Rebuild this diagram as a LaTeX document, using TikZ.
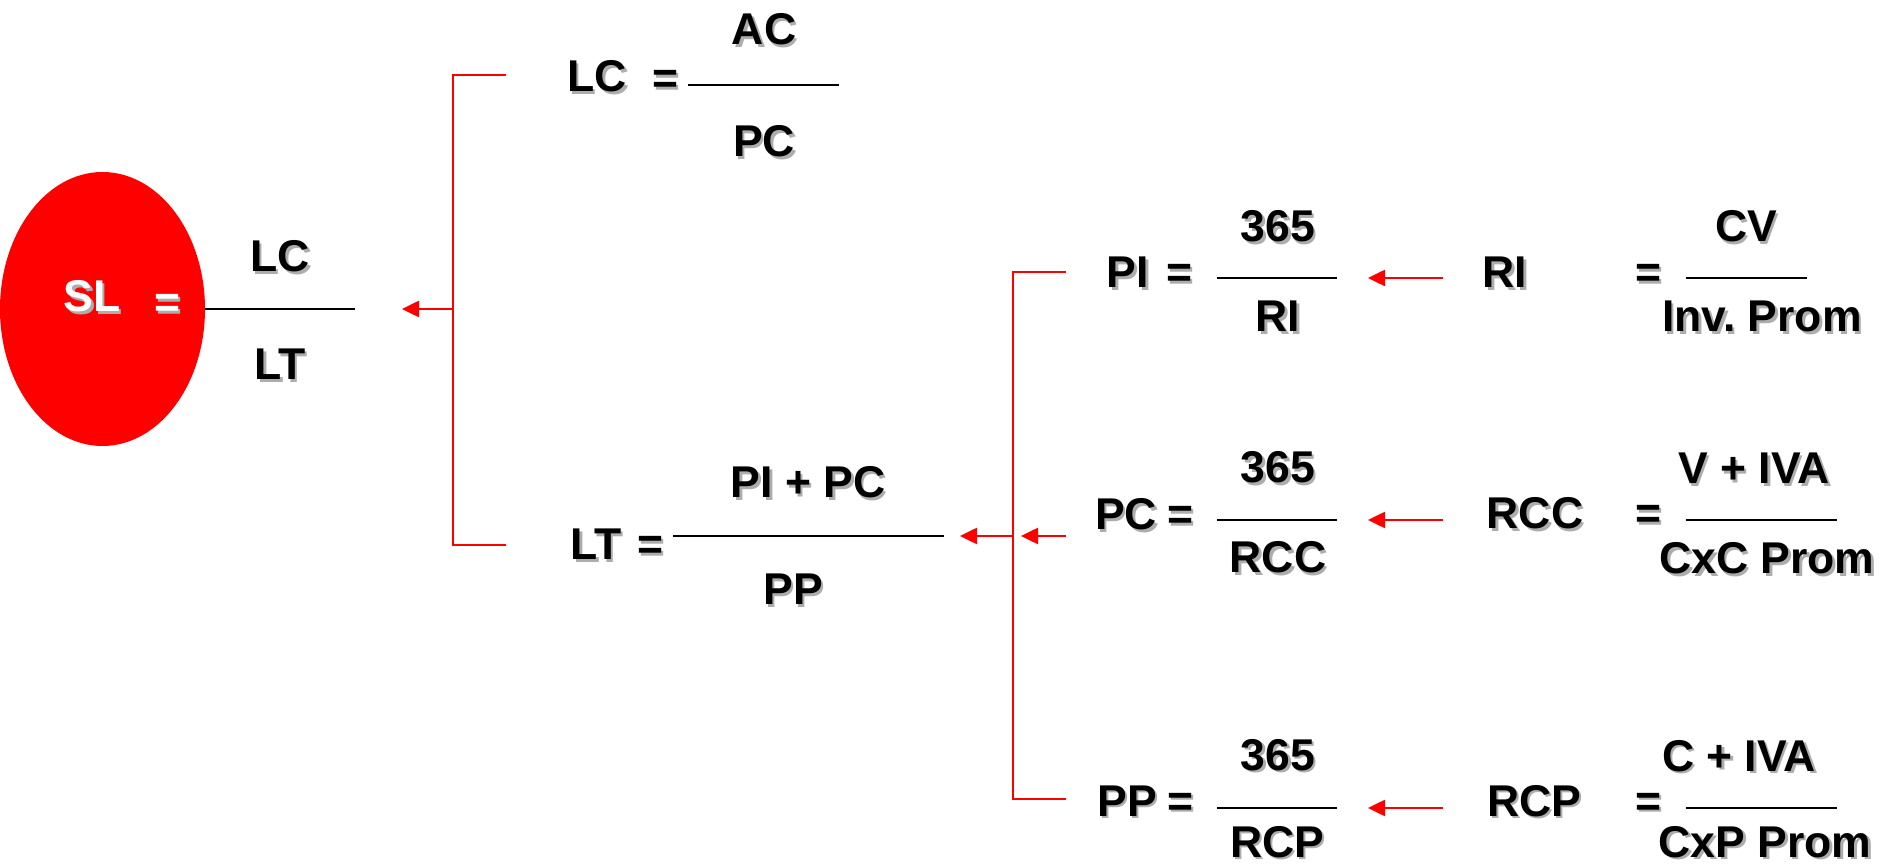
\documentclass[tikz,border=0pt]{standalone}
\usepackage{fontspec}
\setmainfont{Liberation Sans}
\usetikzlibrary{arrows.meta}
\frenchspacing
\newcommand\shtx[1]{\makebox[0pt][l]{\smash{\hspace{1.3pt}\raisebox{-1.3pt}{\textcolor{black!32}{#1}}}}#1}
\begin{document}
\begin{tikzpicture}[x=0.5pt,y=-0.5pt,
  txt/.style={anchor=base,inner sep=0pt,font=\fontsize{22.25}{26}\selectfont\bfseries},
  wtxt/.style={txt,text=white},
  frac/.style={draw=black,line width=1pt},
  brk/.style={draw=red,line width=1.3pt},
  arr/.style={draw=red,line width=1.3pt,-{Triangle[length=8.5pt,width=8pt]}}]
\useasboundingbox (0,0) rectangle (1890,865);
% ellipse
\fill[red] (102.5,309) ellipse [x radius=102.5, y radius=137];
\node[wtxt] (sl) at (92,312) {\shtx{SL}};
\node[wtxt] (sleq) at (167,318) {\shtx{=}};
\coordinate (f0a) at (205,309); \coordinate (f0b) at (355,309);
\draw[frac] (f0a) -- (f0b);
\node[txt] (sln) at (280,272) {\shtx{LC}};
\node[txt] (sld) at (280,380) {\shtx{LT}};
% bracket 1
\coordinate (b1a) at (506,75); \coordinate (b1b) at (453,75);
\coordinate (b1c) at (453,545); \coordinate (b1d) at (506,545);
\coordinate (b1m) at (453,309); \coordinate (t1) at (402,309);
\draw[brk] (b1a) -- (b1b) -- (b1c) -- (b1d);
\draw[arr] (b1m) -- (t1);
% LC
\node[txt] (lc) at (597,92) {\shtx{LC}};
\node[txt] (lceq) at (665,94) {\shtx{=}};
\coordinate (f1a) at (688,85); \coordinate (f1b) at (839,85);
\draw[frac] (f1a) -- (f1b);
\node[txt] (lcn) at (764,45) {\shtx{AC}};
\node[txt] (lcd) at (764,157) {\shtx{PC}};
% LT
\node[txt] (lt) at (596,560) {\shtx{LT}};
\node[txt] (lteq) at (650,560) {\shtx{=}};
\coordinate (f2a) at (673,536); \coordinate (f2b) at (944,536);
\draw[frac] (f2a) -- (f2b);
\node[txt] (ltn) at (808,498) {\shtx{PI + PC}};
\node[txt] (ltd) at (793,605) {\shtx{PP}};
% bracket 2
\coordinate (b2a) at (1066,272); \coordinate (b2b) at (1013,272);
\coordinate (b2c) at (1013,799); \coordinate (b2d) at (1066,799);
\coordinate (b2m) at (1013,536); \coordinate (t2) at (960,536);
\coordinate (b2r) at (1066,536); \coordinate (t3) at (1021,536);
\draw[brk] (b2a) -- (b2b) -- (b2c) -- (b2d);
\draw[arr] (b2m) -- (t2);
\draw[arr] (b2r) -- (t3);
% PI row
\node[txt] (pi) at (1128,288) {\shtx{PI}};
\node[txt] (pieq) at (1179,288) {\shtx{=}};
\coordinate (f3a) at (1217,278); \coordinate (f3b) at (1337,278);
\draw[frac] (f3a) -- (f3b);
\node[txt] (pin) at (1278,242) {\shtx{365}};
\node[txt] (pid) at (1278,332) {\shtx{RI}};
\coordinate (a3s) at (1443,278); \coordinate (a3t) at (1368,278);
\draw[arr] (a3s) -- (a3t);
\node[txt] (ri) at (1505,288) {\shtx{RI}};
\node[txt] (rieq) at (1648,288) {\shtx{=}};
\coordinate (f4a) at (1686,278); \coordinate (f4b) at (1807,278);
\draw[frac] (f4a) -- (f4b);
\node[txt] (rin) at (1746,242) {\shtx{CV}};
\node[txt] (rid) at (1762,332) {\shtx{Inv. Prom}};
% PC row
\node[txt] (pc) at (1126,530) {\shtx{PC}};
\node[txt] (pceq) at (1180,530) {\shtx{=}};
\coordinate (f5a) at (1217,520); \coordinate (f5b) at (1337,520);
\draw[frac] (f5a) -- (f5b);
\node[txt] (pcn) at (1278,483) {\shtx{365}};
\node[txt] (pcd) at (1278,573) {\shtx{RCC}};
\coordinate (a5s) at (1443,520); \coordinate (a5t) at (1368,520);
\draw[arr] (a5s) -- (a5t);
\node[txt] (rcc) at (1535,529) {\shtx{RCC}};
\node[txt] (rcceq) at (1648,529) {\shtx{=}};
\coordinate (f6a) at (1686,520); \coordinate (f6b) at (1837,520);
\draw[frac] (f6a) -- (f6b);
\node[txt] (rccn) at (1754,484) {\shtx{V + IVA}};
\node[txt] (rccd) at (1767,574) {\shtx{CxC Prom}};
% PP row
\node[txt] (pp) at (1127,816) {\shtx{PP}};
\node[txt] (ppeq) at (1180,816) {\shtx{=}};
\coordinate (f7a) at (1217,808); \coordinate (f7b) at (1337,808);
\draw[frac] (f7a) -- (f7b);
\node[txt] (ppn) at (1278,770) {\shtx{365}};
\node[txt] (ppd) at (1277,857) {\shtx{RCP}};
\coordinate (a7s) at (1443,808); \coordinate (a7t) at (1368,808);
\draw[arr] (a7s) -- (a7t);
\node[txt] (rcp) at (1534,816) {\shtx{RCP}};
\node[txt] (rcpeq) at (1648,816) {\shtx{=}};
\coordinate (f8a) at (1686,808); \coordinate (f8b) at (1837,808);
\draw[frac] (f8a) -- (f8b);
\node[txt] (rcpn) at (1739,771) {\shtx{C + IVA}};
\node[txt] (rcpd) at (1765,857) {\shtx{CxP Prom}};
\end{tikzpicture}
\end{document}
